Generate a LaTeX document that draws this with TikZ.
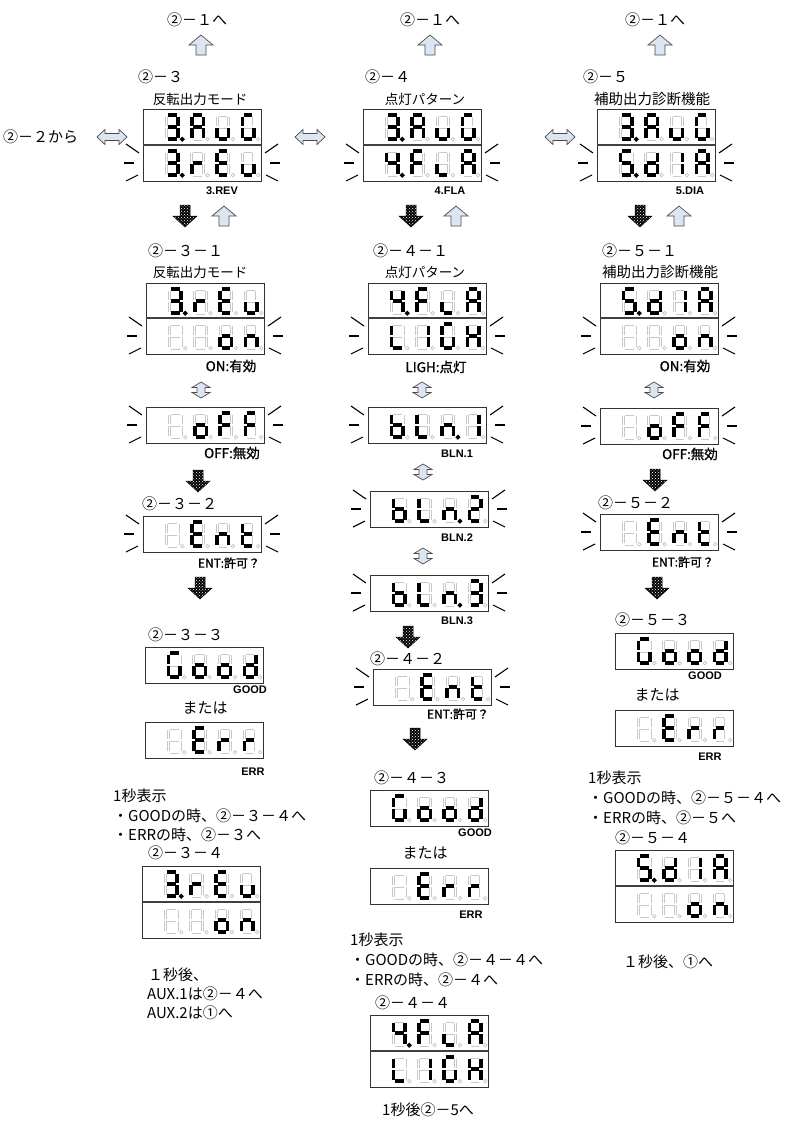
\documentclass[tikz,border=0pt]{standalone}
\usepackage{fontspec}
\setmainfont{Noto Sans CJK JP}
\newfontfamily\latb{Liberation Sans}
\newfontfamily\jpb{Noto Sans CJK JP}[FakeBold=1.2]
\usetikzlibrary{patterns}
\definecolor{arrowblue}{RGB}{220,230,242}
\definecolor{segoffgray}{RGB}{200,200,200}

% lit segments of each digit shown
\def\dgX{x}
\def\dgThreeP{a,b,c,d,g,p}
\def\dgThree{a,b,c,d,g}
\def\dgTwo{a,b,d,e,g}
\def\dgOne{b,c}
\def\dgFourP{b,c,f,g,p}
\def\dgFiveP{a,c,d,f,g,p}
\def\dgA{a,b,c,e,f,g}
\def\dgB{c,d,e,f,g}
\def\dgD{b,c,d,e,g}
\def\dgE{a,d,e,f,g}
\def\dgF{a,e,f,g}
\def\dgG{a,c,d,e,f}
\def\dgH{b,c,e,f,g}
\def\dgL{d,e,f}
\def\dgl{d,e}
\def\dgN{c,e,g}
\def\dgNP{c,e,g,p}
\def\dgO{c,d,e,g}
\def\dgR{e,g}
\def\dgT{d,e,f,g}
\def\dgU{c,d,e}

\tikzset{
  seg a/.style={insert path={(1.5,0) -- (10,0)}},
  seg b/.style={insert path={(11.5,1.5) -- (11.5,10.7)}},
  seg c/.style={insert path={(11.5,13.3) -- (11.5,22.5)}},
  seg d/.style={insert path={(1.5,24) -- (10,24)}},
  seg e/.style={insert path={(0,13.3) -- (0,22.5)}},
  seg f/.style={insert path={(0,1.5) -- (0,10.7)}},
  seg g/.style={insert path={(1.5,12) -- (10,12)}},
  seg p/.style={insert path={(15.8,24.2) circle (0.2)}},
  seg x/.style={},
  segon/.style={draw=black, line width=3.4, line cap=butt},
  segoff/.style={draw=white, line width=1.2, line cap=round,
    preaction={draw=segoffgray, line width=3.0}},
  dispbox/.style={draw=black!80, line width=0.9, fill=white},
  divline/.style={draw=black!75, line width=1.5},
  blinkline/.style={draw=black, line width=1.1},
  arrowst/.style={fill=arrowblue, draw=black!70, line width=0.7, line join=miter},
  darkarrow/.style={preaction={fill=black}, pattern=crosshatch dots,
    pattern color=white, draw=black, line width=0.5},
  hdr/.style={font=\fontsize{15}{15}\selectfont, inner sep=0},
  ttl/.style={font=\fontsize{13.5}{13.5}\selectfont, inner sep=0},
  note/.style={font=\fontsize{15}{15}\selectfont, inner sep=0, anchor=west},
  lab/.style={font=\fontsize{11}{11}\selectfont\latb\bfseries, inner sep=0},
  jlab/.style={font=\fontsize{13.5}{13.5}\selectfont\jpb, inner sep=0},
  slab/.style={font=\fontsize{12}{12}\selectfont\jpb, inner sep=0},
  uparr/.pic={\path[arrowst] (0,-10) -- (12,0) -- (5,0) -- (5,10) -- (-5,10)
    -- (-5,0) -- (-12,0) -- cycle;},
  downarr/.pic={\path[darkarrow] (0,11) -- (12,0) -- (5,0) -- (5,-11) -- (-5,-11)
    -- (-5,0) -- (-12,0) -- cycle;},
  lrarr/.pic={\path[arrowst] (-15,0) -- (-7,-7.5) -- (-7,-3.5) -- (7,-3.5) -- (7,-7.5)
    -- (15,0) -- (7,7.5) -- (7,3.5) -- (-7,3.5) -- (-7,7.5) -- cycle;},
  udarr/.pic={\path[arrowst] (0,-8) -- (9,-2.5) -- (4,-2.5) -- (4,2.5) -- (9,2.5)
    -- (0,8) -- (-9,2.5) -- (-4,2.5) -- (-4,-2.5) -- (-9,-2.5) -- cycle;},
}

% one 7-segment digit, top-left at (#1,#2)
\newcommand\sdigit[3]{%
  \begin{scope}[shift={(#1,#2)}]
    \foreach \s in {a,b,c,d,e,f,g,p}{\edef\segcmd{\noexpand\draw[segoff, seg \s];}\segcmd}
    \foreach \s in #3{\edef\segcmd{\noexpand\draw[segon, seg \s];}\segcmd}
  \end{scope}}
% one display row of four digits
\newcommand\srow[6]{%
  \draw[dispbox] (#1,#2) rectangle ++(118,36);
  \sdigit{#1+23.5}{#2+6}{#3}%
  \sdigit{#1+48.8}{#2+6}{#4}%
  \sdigit{#1+74.1}{#2+6}{#5}%
  \sdigit{#1+99.4}{#2+6}{#6}}
\newcommand\divider[2]{\draw[divline] (#1,#2) -- ++(118,0);}
% blinking marks on both sides of a row
\newcommand\blink[2]{%
  \draw[blinkline] (#1-17,#2-1) -- (#1-4,#2+8);
  \draw[blinkline] (#1-19,#2+18) -- (#1-9,#2+18);
  \draw[blinkline] (#1-17,#2+36) -- (#1-5,#2+30);
  \draw[blinkline] (#1+135,#2-1) -- (#1+122,#2+8);
  \draw[blinkline] (#1+137,#2+18) -- (#1+127,#2+18);
  \draw[blinkline] (#1+135,#2+36) -- (#1+123,#2+30);}

\begin{document}
\begin{tikzpicture}[x=1pt,y=-1pt]
\fill[white] (0,0) rectangle (796,1125);
\useasboundingbox (0,0) rectangle (796,1125);

% ---- column 1 : 2-3
\node[hdr] (aback) at (197,20) {②－１へ};
\pic at (201,45) {uparr};
\node[hdr, anchor=west] (anum) at (138,77) {②－３};
\node[ttl] (attl) at (200,99) {反転出力モード};
\srow{143}{109}{\dgThreeP}{\dgA}{\dgU}{\dgG}
\srow{143}{145}{\dgThreeP}{\dgR}{\dgE}{\dgU}
\divider{143}{145}
\blink{143}{145}
\node[lab] (arev) at (222,191) {3.REV};
\node[hdr, anchor=west] (afrom) at (3,137) {②－２から};
\pic at (112,137) {lrarr};
\pic at (185,216) {downarr};
\pic at (224,216) {uparr};

\node[hdr, anchor=west] (aone) at (148,251) {②－３－１};
\node[ttl] (attlb) at (200,272) {反転出力モード};
\srow{146}{283}{\dgThreeP}{\dgR}{\dgE}{\dgU}
\srow{146}{318}{\dgX}{\dgX}{\dgO}{\dgN}
\divider{146}{318}
\blink{146}{318}
\node[jlab] (aon) at (231,366) {ON:有効};
\pic at (201,390) {udarr};
\srow{146}{407}{\dgX}{\dgO}{\dgF}{\dgF}
\blink{146}{407}
\node[jlab] (aoff) at (232,453) {OFF:無効};
\pic at (198,481) {downarr};

\node[hdr, anchor=west] (atwo) at (142,504) {②－３－２};
\srow{143}{516}{\dgX}{\dgE}{\dgN}{\dgT}
\blink{143}{516}
\node[slab] (aent) at (229,563) {ENT:許可？};
\pic at (200,588) {downarr};

\node[hdr, anchor=west] (athree) at (148,635) {②－３－３};
\srow{145}{647}{\dgG}{\dgO}{\dgO}{\dgD}
\node[lab] (agood) at (250,690) {GOOD};
\node[hdr] (aor) at (205,708) {または};
\srow{145}{722}{\dgX}{\dgE}{\dgR}{\dgR}
\node[lab] (aerr) at (253,772) {ERR};
\node[note] (asec) at (113,796) {1秒表示};
\node[note] (agoodto) at (113,816) {・GOODの時、②－３－４へ};
\node[note] (aerrto) at (113,835) {・ERRの時、②－３へ};

\node[hdr, anchor=west] (afour) at (148,853) {②－３－４};
\srow{142}{866}{\dgThreeP}{\dgR}{\dgE}{\dgU}
\srow{142}{902}{\dgX}{\dgX}{\dgO}{\dgN}
\divider{142}{902}
\node[note] (aafter) at (148,975) {１秒後、};
\node[note] (aaux) at (147,994) {AUX.1は②－４へ};
\node[note] (aauxb) at (147,1013) {AUX.2は①へ};

% ---- column 2 : 2-4
\node[hdr] (bback) at (430,20) {②－１へ};
\pic at (430,45) {uparr};
\node[hdr, anchor=west] (bnum) at (365,77) {②－４};
\node[ttl] (bttl) at (425,99) {点灯パターン};
\srow{363}{109}{\dgThreeP}{\dgA}{\dgU}{\dgG}
\srow{363}{145}{\dgFourP}{\dgF}{\dgl}{\dgA}
\divider{363}{145}
\blink{363}{145}
\node[lab] (bfla) at (450,191) {4.FLA};
\pic at (310,137) {lrarr};
\pic at (411,216) {downarr};
\pic at (456,216) {uparr};

\node[hdr, anchor=west] (bone) at (373,251) {②－４－１};
\node[ttl] (bttlb) at (425,272) {点灯パターン};
\srow{368}{283}{\dgFourP}{\dgF}{\dgl}{\dgA}
\srow{368}{318}{\dgL}{\dgOne}{\dgG}{\dgH}
\divider{368}{318}
\blink{368}{318}
\node[jlab] (blig) at (436,367) {LIGH:点灯};
\pic at (422,390) {udarr};
\srow{368}{407}{\dgB}{\dgL}{\dgNP}{\dgOne}
\blink{368}{407}
\node[lab] (bbla) at (457,454) {BLN.1};
\pic at (423,472) {udarr};
\srow{370}{491}{\dgB}{\dgL}{\dgNP}{\dgTwo}
\blink{370}{491}
\node[lab] (bblb) at (457,538) {BLN.2};
\pic at (423,556) {udarr};
\srow{370}{575}{\dgB}{\dgL}{\dgNP}{\dgThree}
\blink{370}{575}
\node[lab] (bblc) at (457,621) {BLN.3};
\pic at (408,637) {downarr};

\node[hdr, anchor=west] (btwo) at (370,659) {②－４－２};
\srow{373}{669}{\dgX}{\dgE}{\dgN}{\dgT}
\blink{373}{669}
\node[slab] (bent) at (458,714) {ENT:許可？};
\pic at (415,739) {downarr};

\node[hdr, anchor=west] (bthree) at (374,778) {②－４－３};
\srow{370}{790}{\dgG}{\dgO}{\dgO}{\dgD}
\node[lab] (bgood) at (475,833) {GOOD};
\node[hdr] (bor) at (425,853) {または};
\srow{370}{868}{\dgX}{\dgE}{\dgR}{\dgR}
\node[lab] (berr) at (471,915) {ERR};
\node[note] (bsec) at (350,940) {1秒表示};
\node[note] (bgoodto) at (350,960) {・GOODの時、②－４－４へ};
\node[note] (berrto) at (350,980) {・ERRの時、②－４へ};

\node[hdr, anchor=west] (bfour) at (375,1003) {②－４－４};
\srow{370}{1015}{\dgFourP}{\dgF}{\dgl}{\dgA}
\srow{370}{1051}{\dgL}{\dgOne}{\dgG}{\dgH}
\divider{370}{1051}
\node[note, anchor=center] (bafter) at (428,1110) {1秒後②－5へ};

% ---- column 3 : 2-5
\node[hdr] (cback) at (655,20) {②－１へ};
\pic at (660,45) {uparr};
\node[hdr, anchor=west] (cnum) at (583,77) {②－５};
\node[ttl, font=\fontsize{14.5}{14.5}\selectfont] (cttl) at (652,99) {補助出力診断機能};
\srow{597}{109}{\dgThreeP}{\dgA}{\dgU}{\dgG}
\srow{597}{145}{\dgFiveP}{\dgD}{\dgOne}{\dgA}
\divider{597}{145}
\blink{597}{145}
\node[lab] (cdia) at (690,191) {5.DIA};
\pic at (560,137) {lrarr};
\pic at (640,216) {downarr};
\pic at (679,216) {uparr};

\node[hdr, anchor=west] (cone) at (602,251) {②－５－１};
\node[ttl, font=\fontsize{14.5}{14.5}\selectfont] (cttlb) at (660,272) {補助出力診断機能};
\srow{600}{283}{\dgFiveP}{\dgD}{\dgOne}{\dgA}
\srow{600}{318}{\dgX}{\dgX}{\dgO}{\dgN}
\divider{600}{318}
\blink{600}{318}
\node[jlab] (con) at (685,366) {ON:有効};
\pic at (654,390) {udarr};
\srow{600}{408}{\dgX}{\dgO}{\dgF}{\dgF}
\blink{600}{408}
\node[jlab] (coff) at (690,454) {OFF:無効};
\pic at (655,480) {downarr};

\node[hdr, anchor=west] (ctwo) at (598,503) {②－５－２};
\srow{600}{514}{\dgX}{\dgE}{\dgN}{\dgT}
\blink{600}{514}
\node[slab] (cent) at (683,562) {ENT:許可？};
\pic at (657,588) {downarr};

\node[hdr, anchor=west] (cthree) at (615,620) {②－５－３};
\srow{615}{633}{\dgG}{\dgO}{\dgO}{\dgD}
\node[lab] (cgood) at (705,676) {GOOD};
\node[hdr] (cor) at (657,695) {または};
\srow{615}{710}{\dgX}{\dgE}{\dgR}{\dgR}
\node[lab] (cerr) at (710,757) {ERR};
\node[note] (csec) at (588,778) {1秒表示};
\node[note] (cgoodto) at (588,798) {・GOODの時、②－５－４へ};
\node[note] (cerrto) at (588,818) {・ERRの時、②－５へ};

\node[hdr, anchor=west] (cfour) at (615,838) {②－５－４};
\srow{615}{850}{\dgFiveP}{\dgD}{\dgOne}{\dgA}
\srow{615}{886}{\dgX}{\dgX}{\dgO}{\dgN}
\divider{615}{886}
\node[note, anchor=center] (cafter) at (668,962) {１秒後、①へ};
\end{tikzpicture}
\end{document}
